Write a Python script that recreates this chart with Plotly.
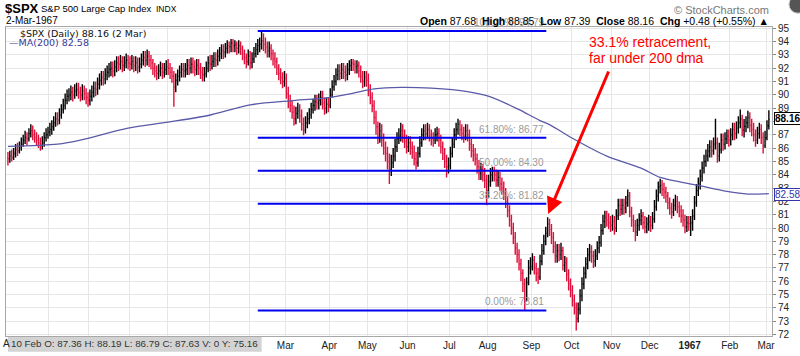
import pandas as pd
import plotly.graph_objects as go

# ---------------- data ----------------
prior_close = 85.25  # close before first bar (open of each bar = prior close)

closes = [
    # Aug 1965
    85.2, 85.4, 85.3, 85.6, 85.9, 85.8, 86.1, 86.3, 86.6, 86.8, 86.7, 87.1, 87.3, 87.0, 86.8, 86.6, 86.4, 86.2, 86.4, 86.8, 87.0, 87.2,
    # Sep 1965
    87.4, 87.6, 87.9, 88.2, 88.1, 88.5, 88.9, 89.2, 89.6, 89.9, 90.0, 90.2, 90.0, 90.3, 90.4, 90.2, 90.0, 90.3, 90.1, 89.8, 89.6,
    # Oct 1965
    89.9, 90.2, 90.5, 90.4, 90.8, 91.1, 91.3, 91.2, 91.5, 91.7, 91.9, 92.0, 91.8, 92.1, 92.4, 92.3, 92.5, 92.2, 92.4, 92.6, 92.4,
    # Nov 1965
    92.3, 92.5, 92.2, 92.4, 92.1, 92.3, 92.6, 92.8, 92.6, 92.9, 92.6, 92.4, 92.0, 91.8, 91.6, 91.8, 92.0, 91.7, 91.9, 92.1,
    # Dec 1965
    92.0, 91.7, 91.4, 90.6, 91.1, 91.4, 91.7, 91.9, 91.8, 91.9, 92.2, 92.0, 92.3, 92.1, 91.9, 92.2, 92.0, 91.7, 91.5, 91.6, 92.0, 92.4,
    # Jan 1966
    92.3, 92.5, 92.7, 92.6, 92.9, 93.1, 93.3, 93.2, 93.5, 93.7, 93.6, 93.9, 93.7, 93.8, 93.5, 93.7, 93.5, 93.1, 92.8, 92.5, 92.9,
    # Feb 1966
    92.4, 92.7, 93.1, 93.4, 93.7, 93.8, 94.06, 93.8, 93.6, 93.3, 93.5, 93.1, 92.7, 92.5, 92.0, 91.6, 91.3, 91.0, 91.2,
    # Mar 1966
    90.1, 89.5, 89.2, 88.7, 88.2, 88.6, 88.8, 88.4, 87.8, 87.35, 87.9, 88.2, 88.5, 88.9, 89.2, 89.5, 89.4, 89.6, 89.8, 89.4, 89.0, 89.3, 89.2,
    # Apr 1966
    90.0, 90.6, 91.0, 91.5, 91.8, 91.6, 91.9, 91.7, 91.5, 91.9, 92.2, 92.4, 92.3, 92.1, 92.2, 91.8, 91.4, 91.0, 91.3, 91.1,
    # May 1966
    90.3, 89.8, 89.2, 88.3, 87.6, 86.8, 87.3, 86.6, 86.0, 85.6, 85.0, 84.4, 84.9, 85.4, 86.1, 86.7, 86.9, 87.3, 86.9, 86.5, 86.1,
    # Jun 1966
    86.4, 86.0, 85.7, 85.2, 84.9, 85.6, 86.4, 87.0, 87.3, 87.1, 87.4, 87.0, 86.7, 86.6, 87.0, 87.1, 86.6, 86.1, 85.6, 85.0, 84.6, 84.7,
    # Jul 1966
    85.6, 86.3, 87.0, 87.4, 87.8, 87.4, 87.1, 86.9, 87.3, 87.0, 86.3, 85.8, 85.5, 85.2, 84.6, 84.1, 84.4, 84.0, 83.6, 82.8,
    # Aug 1966
    83.5, 84.0, 84.3, 84.0, 83.6, 83.8, 83.3, 83.0, 82.6, 82.0, 81.3, 80.6, 80.0, 79.3, 78.5, 78.0, 77.3, 76.6, 75.8, 74.53, 75.9, 77.0, 77.1,
    # Sep 1966
    77.6, 77.0, 76.6, 76.3, 77.5, 78.3, 79.0, 79.6, 80.3, 79.9, 79.3, 78.6, 77.9, 78.3, 78.0, 78.3, 77.2, 77.4, 76.5, 75.8, 75.3,
    # Oct 1966
    74.6, 74.0, 73.2, 73.9, 74.9, 75.8, 76.6, 77.3, 78.0, 78.2, 77.9, 77.5, 77.9, 78.5, 78.9, 79.8, 80.5, 80.8, 80.6, 80.4, 80.2,
    # Nov 1966
    80.5, 80.0, 80.9, 81.7, 81.4, 81.7, 81.5, 81.9, 82.4, 81.2, 80.6, 80.2, 79.7, 80.2, 80.6, 80.9, 80.4, 80.1, 80.3, 80.45,
    # Dec 1966
    80.2, 80.7, 81.6, 82.4, 83.1, 83.2, 82.9, 82.7, 82.4, 81.9, 81.5, 81.2, 81.7, 82.0, 81.6, 81.3, 80.9, 80.6, 80.1, 80.4, 80.33,
    # Jan 1967
    80.4, 80.9, 81.9, 82.8, 83.3, 83.9, 84.5, 85.0, 85.4, 85.8, 86.1, 85.8, 86.3, 86.4, 85.4, 85.9, 86.6, 86.3, 86.7, 86.9, 86.61,
    # Feb 1967
    87.0, 87.4, 87.1, 87.5, 87.9, 88.2, 87.36, 87.63, 87.9, 88.3, 87.7, 87.4, 87.0, 86.6, 87.1, 87.4, 86.8, 86.2, 86.78,
    # Mar 1967
    87.68, 88.16,
]

highs = [
    85.7, 85.8, 85.9, 86.0, 86.3, 86.4, 86.5, 86.8, 87.0, 87.3, 87.2, 87.5, 87.8, 87.7, 87.4, 87.2, 87.0, 86.8, 86.9, 87.2, 87.5, 87.6,
    87.9, 88.1, 88.4, 88.7, 88.7, 89.0, 89.3, 89.7, 90.1, 90.4, 90.5, 90.7, 90.6, 90.8, 90.9, 90.9, 90.6, 90.8, 90.7, 90.5, 90.2,
    90.4, 90.7, 91.0, 91.0, 91.3, 91.6, 91.8, 91.8, 92.0, 92.2, 92.4, 92.5, 92.5, 92.6, 92.9, 92.9, 93.0, 92.9, 92.9, 93.1, 93.0,
    92.9, 93.0, 92.9, 92.9, 92.8, 92.8, 93.1, 93.3, 93.3, 93.4, 93.3, 93.0, 92.7, 92.4, 92.2, 92.3, 92.5, 92.4, 92.4, 92.6,
    92.7, 92.4, 92.1, 91.8, 91.6, 91.9, 92.2, 92.4, 92.4, 92.4, 92.7, 92.7, 92.8, 92.8, 92.6, 92.7, 92.7, 92.4, 92.1, 92.1, 92.5, 92.9,
    93.0, 93.0, 93.2, 93.2, 93.4, 93.6, 93.8, 93.8, 93.9, 94.1, 94.0, 94.2, 94.2, 94.1, 94.0, 94.1, 94.0, 93.7, 93.4, 93.1, 93.4,
    93.3, 93.2, 93.6, 93.9, 94.2, 94.3, 94.79, 94.6, 94.3, 94.0, 94.0, 93.8, 93.4, 93.2, 92.8, 92.3, 92.0, 91.7, 91.8,
    91.6, 90.6, 90.0, 89.6, 89.2, 89.1, 89.4, 89.3, 88.9, 88.3, 88.4, 88.7, 89.0, 89.4, 89.7, 90.0, 90.0, 90.1, 90.3, 90.3, 89.8, 89.8, 89.8,
    90.5, 91.1, 91.5, 92.0, 92.3, 92.3, 92.4, 92.4, 92.2, 92.4, 92.6, 92.7, 92.7, 92.6, 92.6, 92.5, 92.2, 91.8, 91.8, 91.8,
    91.6, 90.8, 90.2, 89.6, 88.8, 88.0, 87.9, 87.8, 87.1, 86.5, 86.1, 85.6, 85.5, 86.0, 86.7, 87.2, 87.5, 87.9, 87.8, 87.4, 87.0,
    86.9, 86.9, 86.5, 86.2, 85.7, 86.1, 86.9, 87.5, 87.8, 87.8, 87.9, 87.8, 87.4, 87.2, 87.5, 87.6, 87.5, 87.0, 86.5, 86.0, 85.5, 85.3,
    86.1, 86.8, 87.5, 87.9, 88.2, 88.1, 87.8, 87.6, 87.8, 87.8, 87.4, 86.7, 86.3, 86.0, 85.6, 85.1, 84.9, 84.8, 84.5, 84.0,
    84.0, 84.5, 84.6, 84.6, 84.4, 84.3, 84.2, 83.8, 83.5, 83.0, 82.4, 81.7, 81.0, 80.4, 79.7, 78.9, 78.4, 77.7, 76.9, 76.2, 76.3, 77.6, 77.8,
    78.1, 77.9, 77.4, 77.0, 78.0, 78.8, 79.5, 80.1, 80.8, 80.7, 80.3, 79.7, 79.0, 78.8, 78.8, 78.9, 78.6, 77.9, 77.8, 76.9, 76.2,
    75.7, 75.0, 74.4, 74.4, 75.4, 76.3, 77.1, 77.8, 78.5, 78.8, 78.7, 78.3, 78.4, 79.0, 79.4, 80.3, 81.0, 81.3, 81.3, 81.1, 80.9,
    81.0, 80.9, 81.4, 82.2, 82.2, 82.2, 82.2, 82.4, 82.9, 82.7, 81.6, 81.0, 80.6, 80.7, 81.1, 81.4, 81.2, 80.9, 80.8, 81.0,
    80.9, 81.2, 82.1, 82.9, 83.5, 83.7, 83.6, 83.4, 83.1, 82.7, 82.3, 81.9, 82.2, 82.5, 82.4, 82.0, 81.7, 81.4, 81.0, 80.9, 80.9,
    80.9, 81.4, 82.4, 83.3, 83.8, 84.4, 85.0, 85.5, 85.9, 86.3, 86.6, 86.6, 86.8, 88.2, 86.8, 86.4, 87.1, 87.1, 87.2, 87.4, 87.4,
    87.5, 87.9, 87.9, 88.0, 88.4, 88.9, 88.5, 88.19, 88.4, 88.8, 88.7, 88.2, 87.9, 87.4, 87.6, 87.9, 87.8, 87.2, 87.3,
    88.1, 88.85,
]

lows = [
    84.7, 84.9, 85.0, 85.1, 85.3, 85.4, 85.6, 85.8, 86.1, 86.3, 86.2, 86.5, 86.8, 86.6, 86.4, 86.2, 86.0, 85.8, 85.9, 86.1, 86.5, 86.7,
    86.9, 87.0, 87.3, 87.6, 87.7, 87.8, 88.2, 88.6, 88.9, 89.3, 89.5, 89.6, 89.5, 89.7, 89.9, 89.7, 89.5, 89.6, 89.6, 89.3, 89.1,
    89.2, 89.5, 89.8, 89.9, 90.0, 90.4, 90.7, 90.7, 90.8, 91.1, 91.3, 91.4, 91.3, 91.4, 91.7, 91.8, 91.9, 91.7, 91.8, 92.0, 91.9,
    91.8, 91.9, 91.7, 91.8, 91.6, 91.7, 92.0, 92.2, 92.1, 92.2, 92.1, 91.9, 91.5, 91.3, 91.1, 91.2, 91.4, 91.2, 91.3, 91.5,
    91.5, 91.2, 90.9, 89.1, 90.2, 90.7, 91.0, 91.3, 91.3, 91.3, 91.5, 91.5, 91.6, 91.6, 91.4, 91.5, 91.5, 91.2, 91.0, 91.0, 91.3, 91.7,
    91.8, 91.9, 92.1, 92.1, 92.2, 92.5, 92.7, 92.7, 92.8, 93.1, 93.1, 93.2, 93.2, 93.2, 93.0, 93.1, 93.0, 92.6, 92.3, 92.0, 92.2,
    91.9, 92.0, 92.4, 92.8, 93.0, 93.2, 93.4, 93.3, 93.1, 92.8, 92.8, 92.6, 92.2, 92.0, 91.5, 91.1, 90.8, 90.5, 90.6,
    89.7, 89.0, 88.7, 88.2, 87.7, 87.8, 88.2, 87.9, 87.3, 86.96, 87.1, 87.5, 87.8, 88.2, 88.6, 88.8, 88.9, 88.9, 89.2, 88.9, 88.5, 88.6, 88.7,
    89.0, 89.8, 90.3, 90.7, 91.1, 91.1, 91.2, 91.2, 91.0, 91.1, 91.5, 91.8, 91.8, 91.6, 91.6, 91.3, 90.9, 90.5, 90.6, 90.6,
    89.9, 89.3, 88.7, 87.8, 87.0, 86.3, 86.4, 86.1, 85.5, 85.0, 84.4, 83.3, 83.9, 84.5, 85.0, 85.7, 86.3, 86.5, 86.4, 86.0, 85.6,
    85.7, 85.5, 85.2, 84.7, 84.4, 84.6, 85.3, 86.1, 86.6, 86.6, 86.7, 86.5, 86.2, 86.1, 86.3, 86.5, 86.1, 85.6, 85.1, 84.5, 83.8, 84.1,
    84.4, 85.3, 86.0, 86.6, 87.0, 86.9, 86.6, 86.4, 86.6, 86.5, 85.8, 85.3, 85.0, 84.7, 84.1, 83.6, 83.6, 83.5, 83.0, 81.7,
    82.3, 83.1, 83.5, 83.5, 83.1, 83.1, 82.8, 82.5, 82.1, 81.5, 80.8, 80.1, 79.5, 78.8, 78.0, 77.4, 76.8, 76.0, 75.2, 73.81, 74.5, 75.7, 76.5,
    76.8, 76.5, 76.0, 75.8, 76.1, 77.2, 78.0, 78.7, 79.3, 79.4, 78.8, 78.1, 77.4, 77.4, 77.5, 77.6, 76.8, 76.7, 76.0, 75.3, 74.8,
    74.1, 73.5, 72.3, 72.9, 73.5, 74.5, 75.4, 76.2, 76.9, 77.5, 77.4, 77.0, 77.1, 77.6, 78.1, 78.6, 79.5, 80.0, 80.1, 79.9, 79.7,
    79.8, 79.5, 79.7, 80.6, 80.9, 81.0, 81.0, 81.1, 81.6, 80.8, 80.1, 79.7, 79.0, 79.4, 79.8, 80.2, 79.9, 79.6, 79.6, 79.8,
    79.7, 79.9, 80.4, 81.3, 82.0, 82.6, 82.4, 82.2, 81.9, 81.4, 81.0, 80.7, 80.9, 81.3, 81.1, 80.8, 80.4, 80.1, 79.6, 79.7, 79.8,
    79.4, 79.8, 80.6, 81.6, 82.4, 82.9, 83.5, 84.1, 84.6, 85.0, 85.3, 85.3, 85.5, 85.9, 84.9, 85.0, 85.6, 85.8, 85.9, 86.3, 86.1,
    86.2, 86.6, 86.6, 86.7, 87.1, 87.5, 86.9, 86.79, 87.2, 87.5, 87.2, 86.9, 86.5, 86.1, 86.3, 86.7, 86.3, 85.6, 86.0,
    86.6, 87.39,
]

holidays = ["1965-09-06", "1965-11-02", "1965-11-25", "1965-12-24", "1966-02-22", "1966-04-08",
            "1966-05-30", "1966-07-04", "1966-09-05", "1966-11-08", "1966-11-24", "1966-12-26",
            "1967-01-02", "1967-02-22"]

# 200-day moving average at these trading-day numbers
ma_days = [0, 26, 38, 63, 84, 105, 127, 148, 168, 180, 192, 206, 222, 241, 253, 267, 279, 284, 296, 314, 332, 342, 362, 377, 388, 399]
ma_values = [86.13, 86.3, 86.6, 87.5, 87.95, 88.45, 89.25, 89.55, 89.8, 90.1, 90.45, 90.56, 90.5, 90.24, 89.85, 88.96,
             88.07, 87.77, 86.74, 85.4, 84.5, 83.8, 83.2, 82.75, 82.55, 82.58]

fib_levels = [94.79, 86.77, 84.30, 81.82, 73.81]
fib_texts = ["100.00%: 94.79", "61.80%: 86.77", "50.00%: 84.30", "38.20%: 81.82", "0.00%: 73.81"]
y_ticks = list(range(72, 96))

# ---------------- build ----------------
dates = pd.bdate_range("1965-08-02", "1967-03-02")
dates = dates[~dates.isin(pd.to_datetime(holidays))]
n = min(len(dates), len(closes), len(highs), len(lows))
dates = dates[:n]
idx = list(range(n))
opens = ([prior_close] + closes[:-1])[:n]

tickvals, ticktext = [], []
prev = None
for i, d in enumerate(dates):
    key = (d.year, d.month)
    if key != prev:
        tickvals.append(i - 0.5)
        if pd.Timestamp("1965-08-31") < d < pd.Timestamp("1966-03-01"):
            ticktext.append("")  # hidden under the data box in the reference
        else:
            ticktext.append("<b>%d</b>" % d.year if d.month == 1 else d.strftime("%b"))
        prev = key

L, R, T, B = 5, 772, 27, 341
def px(x):
    return (x - L) / (R - L)
def py(y):
    return (B - y) / (B - T)

FONT = "Liberation Sans, Arial, sans-serif"

fig = go.Figure()
fig.add_trace(go.Ohlc(
    x=idx, open=opens, high=highs[:n], low=lows[:n], close=closes[:n],
    increasing=dict(line=dict(color="#000000", width=1.4)),
    decreasing=dict(line=dict(color="#e0103c", width=1.4)),
    tickwidth=0.45, hoverinfo="skip", showlegend=False,
))
fig.add_trace(go.Scatter(
    x=ma_days, y=ma_values, mode="lines",
    line=dict(color="#5a5aa8", width=1.3, shape="spline", smoothing=0.8),
    hoverinfo="skip", showlegend=False,
))

shapes = []
annotations = []
fib_x0, fib_x1 = 131.0, 282.3
for lvl, txt in zip(fib_levels, fib_texts):
    shapes.append(dict(type="line", xref="x", yref="y", x0=fib_x0, x1=fib_x1, y0=lvl, y1=lvl,
                       line=dict(color="#0000ee", width=2), layer="above"))
    annotations.append(dict(xref="x", yref="y", x=fib_x1, y=lvl, xanchor="right", yanchor="bottom",
                            yshift=1, text=txt, showarrow=False,
                            font=dict(family=FONT, size=10, color="#9a9a9a")))

# bottom data box
shapes.append(dict(type="rect", xref="paper", yref="paper", x0=px(7), x1=px(261), y0=py(342), y1=py(357),
                   fillcolor="#d3d3d3", line=dict(width=0), layer="above"))
annotations.append(dict(xref="paper", yref="paper", x=px(8), y=py(349), xanchor="left", yanchor="middle",
                        text="10 Feb O: 87.36 H: 88.19 L: 86.79 C: 87.63 V: 0 Y: 75.16", showarrow=False,
                        font=dict(family=FONT, size=9.8, color="#333333")))
# partial "Aug" label at the very left edge
annotations.append(dict(xref="paper", yref="paper", x=px(0), y=py(349), xanchor="left", yanchor="middle",
                        text="A", showarrow=False, font=dict(family=FONT, size=10, color="#222")))

# top-right corner widget
shapes.append(dict(type="circle", xref="paper", yref="paper", x0=px(789), x1=px(807), y0=py(13), y1=py(-5),
                   fillcolor="#555555", line=dict(color="#cccccc", width=1), layer="above"))

# header
annotations += [
    dict(xref="paper", yref="paper", x=px(2), y=py(8), xanchor="left", yanchor="middle",
         text="<b>$SPX</b>", showarrow=False, font=dict(family=FONT, size=13, color="#000")),
    dict(xref="paper", yref="paper", x=px(38), y=py(8.5), xanchor="left", yanchor="middle",
         text="S&P 500 Large Cap Index", showarrow=False, font=dict(family=FONT, size=9.5, color="#000")),
    dict(xref="paper", yref="paper", x=px(153), y=py(8.5), xanchor="left", yanchor="middle",
         text="INDX", showarrow=False, font=dict(family=FONT, size=8.5, color="#000")),
    dict(xref="paper", yref="paper", x=px(3), y=py(20.5), xanchor="left", yanchor="middle",
         text="2-Mar-1967", showarrow=False, font=dict(family=FONT, size=10, color="#000")),
    dict(xref="paper", yref="paper", x=px(771), y=py(9.5), xanchor="right", yanchor="middle",
         text="© StockCharts.com", showarrow=False, font=dict(family=FONT, size=11, color="#777")),
    dict(xref="paper", yref="paper", x=px(771), y=py(20.7), xanchor="right", yanchor="middle",
         text="<b>Open</b> 87.68  <b>High</b> 88.85  <b>Low</b> 87.39  <b>Close</b> 88.16  <b>Chg</b> +0.48 (+0.55%) ▲",
         showarrow=False, font=dict(family=FONT, size=10.5, color="#000")),
    # in-plot legend
    dict(xref="paper", yref="paper", x=px(17), y=py(33.5), xanchor="left", yanchor="middle",
         text="$SPX (Daily) 88.16 (2 Mar)", showarrow=False,
         font=dict(family="DejaVu Sans, Verdana, sans-serif", size=9.5, color="#111")),
    dict(xref="paper", yref="paper", x=px(6), y=py(42.5), xanchor="left", yanchor="middle",
         text="—MA(200) 82.58", showarrow=False,
         font=dict(family="DejaVu Sans, Verdana, sans-serif", size=9.5, color="#3a3a9a")),
    # red comment
    dict(xref="paper", yref="paper", x=px(587), y=py(42), xanchor="left", yanchor="middle",
         text="33.1% retracement,", showarrow=False, font=dict(family=FONT, size=14, color="#ff0000")),
    dict(xref="paper", yref="paper", x=px(587), y=py(58.5), xanchor="left", yanchor="middle",
         text="far under 200 dma", showarrow=False, font=dict(family=FONT, size=14, color="#ff0000")),
    # arrow
    dict(xref="x", yref="y", x=283.3, y=81.05, ax=61, ay=-144, text="", showarrow=True,
         arrowcolor="#ff0000", arrowwidth=3, arrowhead=2, arrowsize=1.1, standoff=0),
    # right axis value flags
    dict(xref="paper", yref="paper", x=px(774), y=py(119.5), xanchor="left", yanchor="middle",
         text="<b>88.16</b>", showarrow=False, bgcolor="#ffffff", bordercolor="#000000", borderwidth=1,
         borderpad=0, font=dict(family=FONT, size=10, color="#000")),
    dict(xref="paper", yref="paper", x=px(774), y=py(197.5), xanchor="left", yanchor="middle",
         text="82.58", showarrow=False, bgcolor="#ffffff", bordercolor="#3333aa", borderwidth=1,
         borderpad=0, font=dict(family=FONT, size=10, color="#3333aa")),
]

fig.update_layout(
    width=800, height=356,
    margin=dict(l=L, r=800 - R, t=T, b=356 - B),
    paper_bgcolor="#ffffff", plot_bgcolor="#ffffff",
    showlegend=False,
    shapes=shapes, annotations=annotations,
    xaxis=dict(
        range=[-1.016, 400.64], tickvals=tickvals, ticktext=ticktext,
        showgrid=True, gridcolor="#e6e6e6", gridwidth=1, zeroline=False,
        showline=True, mirror=True, linecolor="#a8a8a8", linewidth=1,
        ticks="", tickfont=dict(family=FONT, size=10, color="#222"),
        rangeslider=dict(visible=False), fixedrange=True,
    ),
    yaxis=dict(
        side="right", range=[71.89, 95.096], tickvals=y_ticks, ticktext=[str(v) for v in y_ticks],
        showgrid=True, gridcolor="#e6e6e6", gridwidth=1, zeroline=False,
        showline=True, mirror=True, linecolor="#a8a8a8", linewidth=1,
        ticks="outside", ticklen=3, tickcolor="#888",
        tickfont=dict(family=FONT, size=10, color="#222"), fixedrange=True,
    ),
)

fig.write_html("out.html", config={"displayModeBar": False},
               post_script="document.body.style.margin='0';document.body.style.overflow='hidden';")
